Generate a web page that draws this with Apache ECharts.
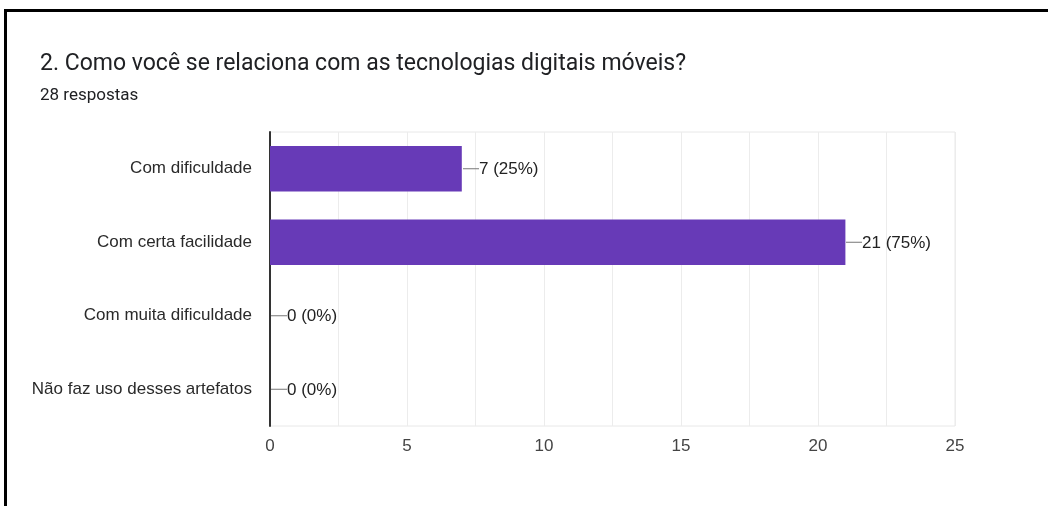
<!DOCTYPE html>
<html>
<head>
<meta charset="utf-8">
<script src="https://cdn.jsdelivr.net/npm/echarts@6/dist/echarts.min.js"></script>
<style>
  html, body { margin: 0; padding: 0; background: #fff; }
  #chart { width: 1048px; height: 506px; position: relative; }
  #frame { position: absolute; left: 4px; top: 9px; right: 0; bottom: 0;
           border-top: 3px solid #000; border-left: 3px solid #000; pointer-events: none; }
</style>
</head>
<body>
<div id="chart"></div>
<div id="frame"></div>
<script>
const titleText = '2. Como você se relaciona com as tecnologias digitais móveis?';
const subtitleText = '28 respostas';
const categories = ['Com dificuldade', 'Com certa facilidade', 'Com muita dificuldade', 'Não faz uso desses artefatos'];
const counts = [7, 21, 0, 0];
const xTicks = [0, 5, 10, 15, 20, 25];

const total = counts.reduce((a, b) => a + b, 0);
const labelFont = '"Liberation Sans", Arial, sans-serif';

const chart = echarts.init(document.getElementById('chart'), null, { renderer: 'canvas' });

chart.setOption({
  backgroundColor: '#fff',
  animation: false,
  title: [
    { text: titleText, left: 40, top: 53, padding: 0,
      textStyle: { fontFamily: 'Roboto, sans-serif', fontSize: 23, fontWeight: 'normal', color: '#202124' } },
    { text: subtitleText, left: 40, top: 87, padding: 0,
      textStyle: { fontFamily: 'Roboto, sans-serif', fontSize: 17, fontWeight: 'normal', color: '#202124' } }
  ],
  grid: { left: 270, top: 132, width: 685, height: 294, show: true, borderColor: '#e8e8e8', borderWidth: 1 },
  xAxis: {
    type: 'value', min: xTicks[0], max: xTicks[xTicks.length - 1], interval: 2.5,
    axisLine: { show: false }, axisTick: { show: false },
    splitLine: { lineStyle: { color: '#ececec', width: 1 } },
    axisLabel: {
      margin: 12, color: '#444', fontSize: 17, fontFamily: labelFont,
      formatter: v => (xTicks.indexOf(v) >= 0 ? String(v) : '')
    }
  },
  yAxis: {
    type: 'category', data: categories, inverse: true,
    axisLine: { lineStyle: { color: '#333', width: 2 } },
    axisTick: { show: false },
    axisLabel: { margin: 18, color: '#2a2a2a', fontSize: 17, fontFamily: labelFont }
  },
  series: [
    {
      type: 'bar', data: counts, barCategoryGap: '38%',
      itemStyle: { color: '#673ab7' }
    },
    {
      type: 'custom',
      data: counts.map((v, i) => [v, i]),
      z: 5,
      renderItem: (params, api) => {
        const v = api.value(0);
        const p = api.coord([v, api.value(1)]);
        const x0 = Math.round(p[0]) + 1;
        const pct = total ? Math.round(v / total * 100) : 0;
        return {
          type: 'group',
          children: [
            { type: 'line', shape: { x1: x0, y1: p[1], x2: x0 + 16, y2: p[1] },
              style: { stroke: '#777', lineWidth: 1 } },
            { type: 'text', x: x0 + 16, y: p[1] + 1,
              style: { text: v + ' (' + pct + '%)', fill: '#222', fontSize: 17, fontFamily: labelFont,
                       align: 'left', verticalAlign: 'middle' } }
          ]
        };
      }
    }
  ]
});
</script>
</body>
</html>
